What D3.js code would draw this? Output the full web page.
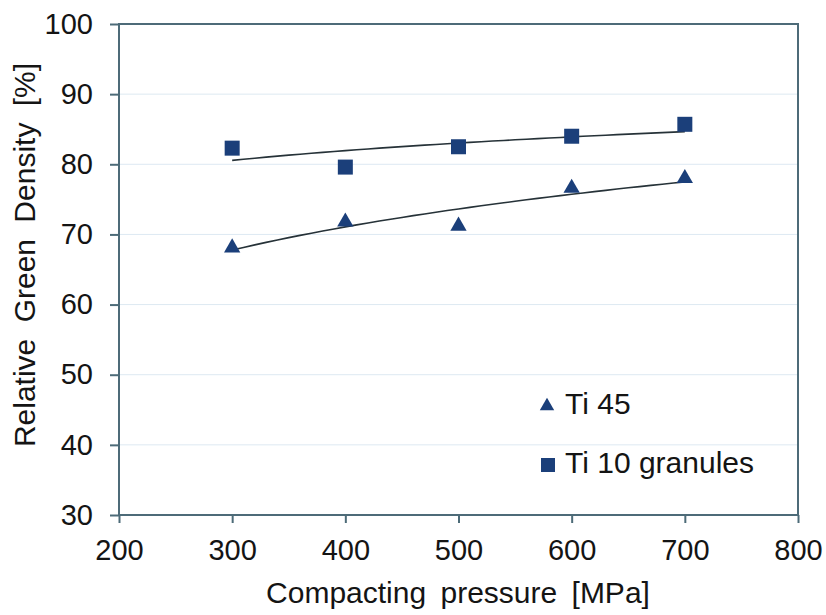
<!DOCTYPE html>
<html><head><meta charset="utf-8">
<script src="https://cdn.jsdelivr.net/npm/d3@7"></script>
<style>body{margin:0;background:#fff}svg{display:block;font-family:"Liberation Sans",Arial,sans-serif}</style>
</head><body>
<svg id="c" width="826" height="615"></svg>
<script>
const pressures = [300, 400, 500, 600, 700];
const ti45 = [68.1, 71.8, 71.2, 76.6, 78.0];
const ti10 = [82.3, 79.6, 82.5, 84.0, 85.7];
const xTicks = [200, 300, 400, 500, 600, 700, 800];
const yTicks = [30, 40, 50, 60, 70, 80, 90, 100];
const seriesNames = ["Ti 45", "Ti 10 granules"];

const svg = d3.select("#c");
const L = 119, R = 798, T = 24, B = 515;
const x = d3.scaleLinear().domain([200, 800]).range([L, R]);
const y = d3.scaleLinear().domain([30, 100]).range([B, T]);
const axisCol = "#4d6b78", markCol = "#1b3f7a", txtCol = "#141414";

// grid
svg.append("g").selectAll("line").data(yTicks.slice(1, -1)).join("line")
  .attr("x1", L).attr("x2", R).attr("y1", d => y(d)).attr("y2", d => y(d))
  .attr("stroke", "#dde9f2").attr("stroke-width", 1);

// frame
svg.append("rect").attr("x", L).attr("y", T).attr("width", R - L).attr("height", B - T)
  .attr("fill", "none").attr("stroke", axisCol).attr("stroke-width", 2);

const fs = 29;
const yAxis = svg.append("g").attr("transform", `translate(${L},0)`)
  .call(d3.axisLeft(y).tickValues(yTicks).tickSize(9).tickPadding(17));
const xAxis = svg.append("g").attr("transform", `translate(0,${B})`)
  .call(d3.axisBottom(x).tickValues(xTicks).tickSize(8).tickPadding(16));
[yAxis, xAxis].forEach(a => {
  a.select(".domain").remove();
  a.selectAll("line").attr("stroke", axisCol).attr("stroke-width", 2);
  a.selectAll("text").attr("fill", txtCol).attr("font-size", fs)
    .attr("font-family", "Liberation Sans, Arial, sans-serif");
});

// log trend lines
function logFit(xs, ys) {
  const lx = xs.map(Math.log);
  const mx = d3.mean(lx), my = d3.mean(ys);
  const a = d3.sum(lx, (v, i) => (v - mx) * (ys[i] - my)) / d3.sum(lx, v => (v - mx) ** 2);
  const b = my - a * mx;
  return v => a * Math.log(v) + b;
}
const line = d3.line().x(d => x(d[0])).y(d => y(d[1]));
[ti45, ti10].forEach(s => {
  const f = logFit(pressures, s);
  const pts = d3.range(300, 700.1, 10).map(v => [v, f(v)]);
  svg.append("path").attr("d", line(pts)).attr("fill", "none")
    .attr("stroke", "#263238").attr("stroke-width", 1.6);
});

// markers
const tri = d3.symbol().type(d3.symbolTriangle).size(115);
svg.append("g").selectAll("path").data(pressures.map((p, i) => [p, ti45[i]])).join("path")
  .attr("d", tri).attr("transform", d => `translate(${x(d[0])},${y(d[1])})`).attr("fill", markCol);
svg.append("g").selectAll("rect").data(pressures.map((p, i) => [p, ti10[i]])).join("rect")
  .attr("x", d => x(d[0]) - 7.5).attr("y", d => y(d[1]) - 7.5).attr("width", 15).attr("height", 15).attr("fill", markCol);

// legend
const lg = svg.append("g");
lg.append("path").attr("d", d3.symbol().type(d3.symbolTriangle).size(90)).attr("transform", "translate(547,406)").attr("fill", markCol);
lg.append("rect").attr("x", 541).attr("y", 458).attr("width", 14).attr("height", 14).attr("fill", markCol);
lg.append("text").attr("x", 565).attr("y", 414).text(seriesNames[0]).attr("font-size", 30).attr("fill", txtCol);
lg.append("text").attr("x", 565).attr("y", 473).text(seriesNames[1]).attr("font-size", 30).attr("fill", txtCol);

// titles
svg.append("text").attr("x", 458).attr("y", 603).attr("text-anchor", "middle")
  .attr("font-size", 30).attr("fill", txtCol).attr("word-spacing", 6).text("Compacting pressure [MPa]");
svg.append("text").attr("transform", "translate(35,255) rotate(-90)").attr("text-anchor", "middle")
  .attr("font-size", 30).attr("fill", txtCol).attr("word-spacing", 8).text("Relative Green Density [%]");
</script>
</body></html>
